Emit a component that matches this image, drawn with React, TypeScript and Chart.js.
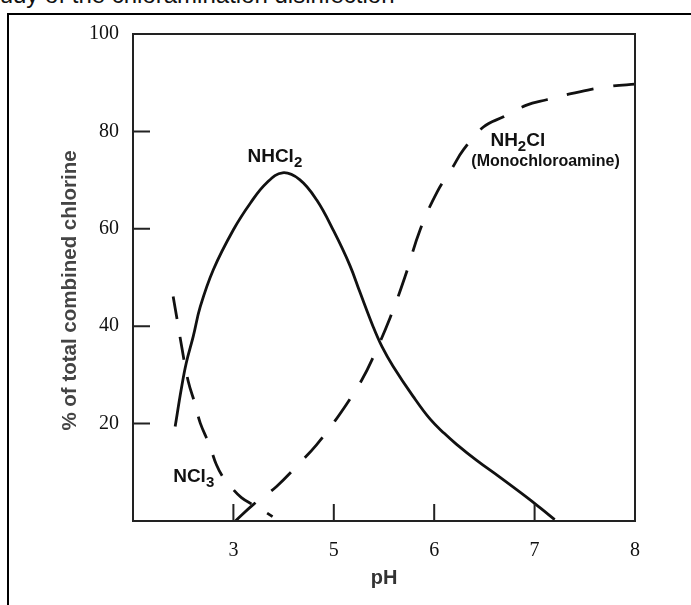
import React, { useEffect, useRef } from 'react';
import { Chart, registerables } from 'chart.js';

Chart.register(...registerables);

// ---- data ----
const nhcl2X = [3.42, 3.48, 3.53, 3.60, 3.67, 3.80, 4.00, 4.17, 4.33, 4.49, 4.66, 4.83, 5.00, 5.16, 5.26, 5.39, 5.48, 5.59, 5.79, 5.96, 6.10, 6.22, 6.42, 6.66, 6.92, 7.05, 7.20];
const nhcl2Y = [19.4, 27.0, 32.4, 37.9, 44.0, 51.6, 59.8, 65.3, 69.4, 71.5, 70.1, 65.9, 59.5, 52.5, 47.0, 40.0, 35.8, 31.8, 25.6, 20.9, 18.0, 15.8, 12.5, 8.9, 4.9, 2.8, 0.3];

const nh2clX = [4.02, 4.20, 4.43, 4.66, 4.83, 5.01, 5.16, 5.28, 5.38, 5.56, 5.71, 5.86, 6.03, 6.18, 6.29, 6.49, 6.69, 6.92, 7.12, 7.35, 7.53, 7.77, 8.0];
const nh2clY = [0, 3.4, 7.1, 11.9, 15.7, 20.5, 25.0, 29.0, 33.1, 41.7, 50.2, 59.8, 67.6, 72.5, 76.2, 80.9, 83.0, 85.4, 86.5, 87.7, 88.5, 89.3, 89.7];

const ncl3X = [3.40, 3.44, 3.49, 3.55, 3.62, 3.67, 3.76, 3.83, 3.90, 3.98, 4.08, 4.19, 4.29, 4.39];
const ncl3Y = [46.1, 41.3, 35.2, 28.7, 23.9, 20.1, 15.7, 11.6, 8.9, 6.9, 4.8, 3.4, 2.2, 0.9];

const yTickValues = [20, 40, 60, 80, 100];
const yTickLabels = ['20', '40', '60', '80', '100'];
const xTickValues = [4, 5, 6, 7, 8];
const xTickLabels = ['3', '5', '6', '7', '8'];

const xTitle = 'pH';
const yTitle = '% of total combined chlorine';
const caption = 'study of the chloramination disinfection';

// curve labels: main text, subscript, trailing text, anchor (data units)
const curveLabelText = ['NHCl', 'NH', 'NCl'];
const curveLabelSub = ['2', '2', '3'];
const curveLabelTail = ['', 'Cl', ''];
const curveLabelX = [4.14, 6.56, 3.40];
const curveLabelY = [73.8, 76.9, 8.0];
const noteText = '(Monochloroamine)';
const noteX = 6.37;
const noteY = 72.8;

const SANS = "'Liberation Sans', Arial, Helvetica, sans-serif";
const SERIF = "'Liberation Serif', 'Times New Roman', serif";

const zip = (xs: number[], ys: number[]) => xs.map((x, i) => ({ x, y: ys[i] }));

const decorPlugin = {
  id: 'decor',
  afterDatasetsDraw(chart: any) {
    const { ctx, chartArea: a, scales } = chart;
    const xs = scales.x;
    const ys = scales.y;
    ctx.save();
    // frame
    ctx.strokeStyle = '#222';
    ctx.lineWidth = 2;
    ctx.strokeRect(a.left, a.top, a.right - a.left, a.bottom - a.top);
    // inward tick marks
    const TL = 17;
    ctx.beginPath();
    yTickValues.forEach((v) => {
      if (v >= ys.max) return;
      const py = ys.getPixelForValue(v);
      ctx.moveTo(a.left, py);
      ctx.lineTo(a.left + TL, py);
    });
    xTickValues.forEach((v) => {
      if (v >= xs.max) return;
      const px = xs.getPixelForValue(v);
      ctx.moveTo(px, a.bottom);
      ctx.lineTo(px, a.bottom - TL);
    });
    ctx.stroke();

    // curve labels with subscripts
    ctx.fillStyle = '#111';
    ctx.textBaseline = 'alphabetic';
    ctx.textAlign = 'left';
    const mainFont = `bold 19px ${SANS}`;
    const subFont = `bold 15px ${SANS}`;
    curveLabelText.forEach((t, i) => {
      let px = xs.getPixelForValue(curveLabelX[i]);
      const py = ys.getPixelForValue(curveLabelY[i]);
      ctx.font = mainFont;
      ctx.fillText(t, px, py);
      px += ctx.measureText(t).width;
      ctx.font = subFont;
      ctx.fillText(curveLabelSub[i], px, py + 5);
      px += ctx.measureText(curveLabelSub[i]).width;
      const tail = curveLabelTail[i];
      if (tail) {
        ctx.font = mainFont;
        ctx.fillText(tail, px, py);
      }
    });
    ctx.font = `bold 16px ${SANS}`;
    ctx.fillText(noteText, xs.getPixelForValue(noteX), ys.getPixelForValue(noteY));

    // y-axis title
    ctx.save();
    ctx.translate(70, (a.top + a.bottom) / 2 + 13);
    ctx.rotate(-Math.PI / 2);
    ctx.font = `bold 20.5px ${SANS}`;
    ctx.fillStyle = '#444';
    ctx.textAlign = 'center';
    ctx.textBaseline = 'middle';
    ctx.fillText(yTitle, 0, 0);
    ctx.restore();

    ctx.restore();
  },
};

export default function App() {
  const ref = useRef<HTMLCanvasElement | null>(null);

  useEffect(() => {
    if (!ref.current) return;
    const common = {
      borderColor: '#111',
      borderWidth: 2.8,
      pointRadius: 0,
      tension: 0.4,
      fill: false,
    };
    const chart = new Chart(ref.current, {
      type: 'line',
      data: {
        datasets: [
          { ...common, label: 'NHCl2', data: zip(nhcl2X, nhcl2Y) },
          { ...common, label: 'NH2Cl', data: zip(nh2clX, nh2clY), borderDash: [27, 20] },
          { ...common, label: 'NCl3', data: zip(ncl3X, ncl3Y), borderDash: [23, 18] },
        ],
      },
      options: {
        animation: false,
        responsive: false,
        layout: { padding: { left: 0, top: 34, right: 56, bottom: 0 } },
        plugins: { legend: { display: false }, tooltip: { enabled: false } },
        scales: {
          x: {
            type: 'linear',
            min: 3,
            max: 8,
            grid: { display: false, drawTicks: false },
            border: { display: false },
            afterBuildTicks: (s: any) => {
              s.ticks = xTickValues.map((v) => ({ value: v }));
            },
            afterFit: (s: any) => {
              s.height = 84;
            },
            ticks: {
              autoSkip: false,
              maxRotation: 0,
              padding: 18,
              color: '#111',
              font: { family: SERIF, size: 20 },
              callback: (_v: any, i: number) => xTickLabels[i] ?? '',
            },
            title: {
              display: true,
              text: xTitle,
              color: '#333',
              font: { family: SANS, size: 20, weight: 'bold' },
              padding: { top: 0, bottom: 15 },
            },
          },
          y: {
            type: 'linear',
            min: 0,
            max: 100,
            grid: { display: false, drawTicks: false },
            border: { display: false },
            afterBuildTicks: (s: any) => {
              s.ticks = yTickValues.map((v) => ({ value: v }));
            },
            afterFit: (s: any) => {
              s.width = 133;
            },
            ticks: {
              autoSkip: false,
              padding: 14,
              color: '#111',
              font: { family: SERIF, size: 20 },
              callback: (_v: any, i: number) => yTickLabels[i] ?? '',
            },
            title: { display: false },
          },
        },
      },
      plugins: [decorPlugin],
    } as any);
    return () => chart.destroy();
  }, []);

  return (
    <div style={{ position: 'fixed', left: 0, top: 0, width: 691, height: 605, overflow: 'hidden', background: '#fff' }}>
      <div
        style={{
          position: 'absolute',
          left: -19,
          top: -17,
          font: `24px ${SANS}`,
          lineHeight: '24px',
          whiteSpace: 'nowrap',
          color: '#111',
        }}
      >
        {caption}
      </div>
      <div
        style={{
          position: 'absolute',
          left: 7,
          top: 13,
          width: 730,
          height: 640,
          border: '2px solid #000',
          boxSizing: 'border-box',
        }}
      />
      <canvas ref={ref} width={691} height={605} style={{ position: 'absolute', left: 0, top: 0, width: 691, height: 605 }} />
    </div>
  );
}
